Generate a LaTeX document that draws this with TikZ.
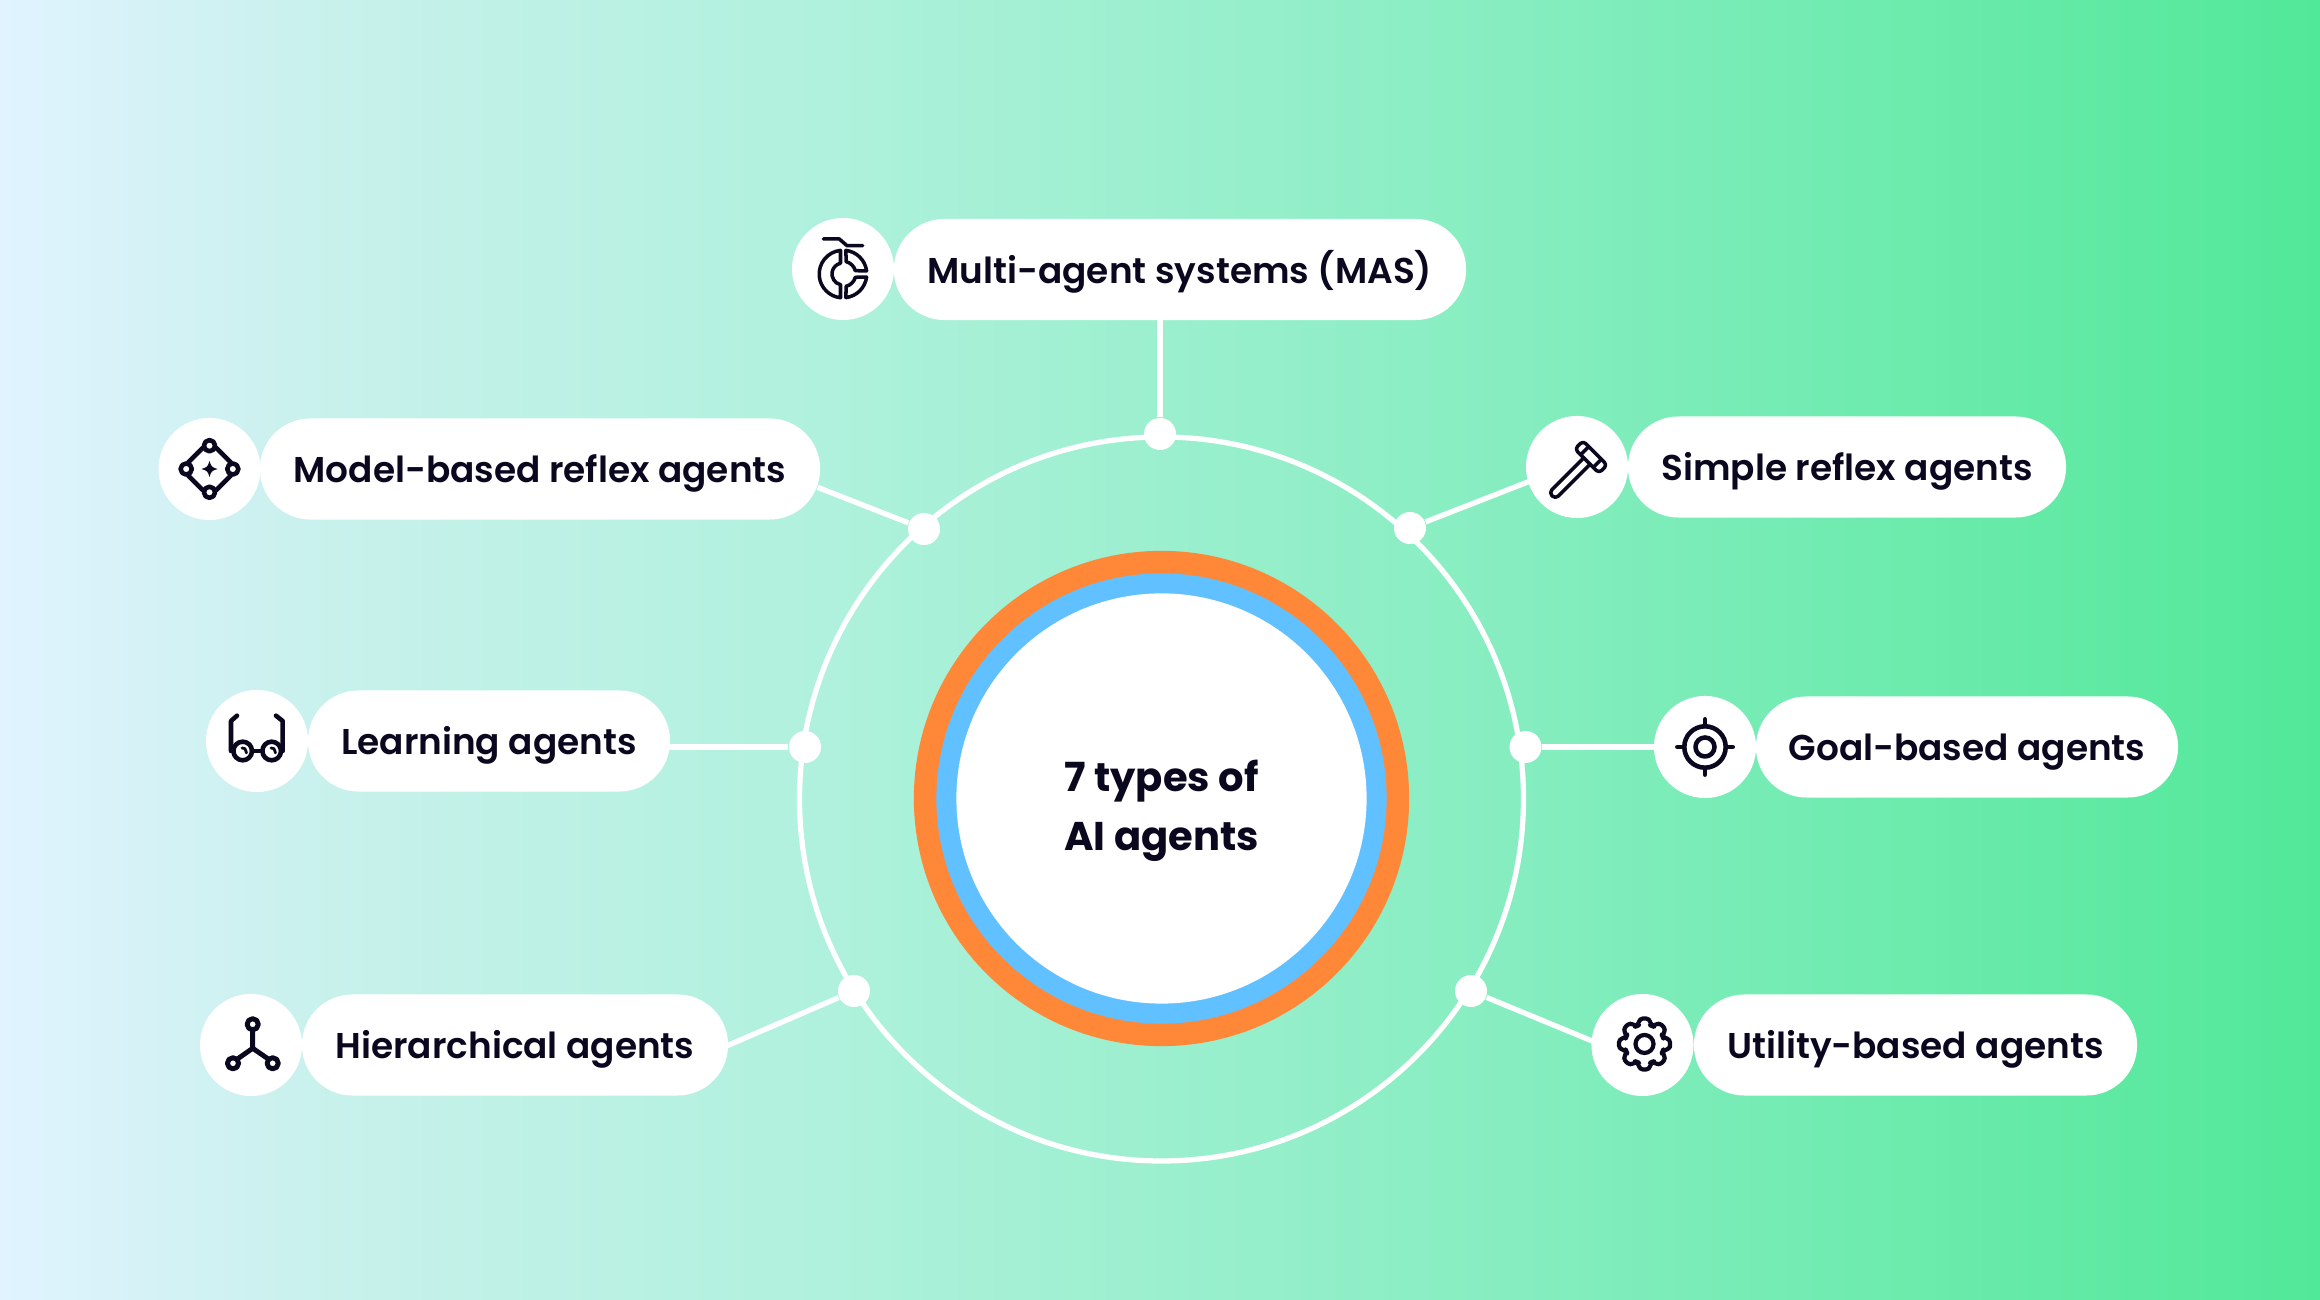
\documentclass[tikz,border=0pt]{standalone}
\usepackage{fontspec}
\setmainfont{Poppins SemiBold}[BoldFont=Poppins Bold]
\usepackage{xcolor}
\usetikzlibrary{positioning, arrows.meta, calc}
\definecolor{accOrange}{RGB}{255, 136, 56}
\definecolor{accBlue}{RGB}{97, 192, 255}
\definecolor{inkDark}{RGB}{10, 8, 30}
\pgfdeclarehorizontalshading{bgGrad}{100bp}{
    rgb(0bp)=(0.88,0.953,1);
    rgb(25bp)=(0.88,0.953,1);
    rgb(31.5bp)=(0.79,0.945,0.93);
    rgb(43bp)=(0.686,0.945,0.863);
    rgb(58bp)=(0.52,0.93,0.75);
    rgb(75bp)=(0.32,0.91,0.6);
    rgb(100bp)=(0.32,0.91,0.6)}

\begin{document}
\begin{tikzpicture}[
    x=0.01cm, y=0.01cm,
    font=\fontsize{10.2pt}{12pt}\selectfont\color{inkDark},
    pill/.style={rectangle, rounded corners=0.505cm, fill=white, minimum height=1.01cm,
        inner sep=0pt, align=center, text height=9.4pt, text depth=1.5pt},
    icon/.style={circle, fill=white, minimum size=1.02cm, inner sep=0pt},
    knot/.style={circle, fill=white, minimum size=0.32cm, inner sep=0pt},
    link/.style={line width=1.5pt, white, shorten >=-1pt},
    glyph/.style={line width=1pt, inkDark, line cap=round, line join=round}
]
\shade[shading=bgGrad] (0,0) rectangle (2320,1300);

% rings
\draw[line width=1.5pt, white] (1161.5,501) circle[radius=362];
\node[circle, fill=accOrange, minimum size=4.95cm, inner sep=0pt] (outer) at (1161.5,501.5) {};
\node[circle, fill=accBlue, minimum size=4.5cm, inner sep=0pt] (middle) at (1161.5,501.5) {};
\node[circle, fill=white, minimum size=4.1cm, inner sep=0pt] (inner) at (1161.5,501.5) {};
\node[align=center, font=\fontsize{11.4pt}{16.8pt}\selectfont\bfseries\color{inkDark}] (title) at (1161.5,489) {7 types of\\AI agents};

% knots on the ring
\node[knot] (kMas)    at (1160,866) {};
\node[knot] (kModel)  at (924,771) {};
\node[knot] (kSimple) at (1410,772) {};
\node[knot] (kLearn)  at (805,553) {};
\node[knot] (kGoal)   at (1525.5,553) {};
\node[knot] (kHier)   at (854,309) {};
\node[knot] (kUtil)   at (1471,309) {};

% labels
\node[pill, minimum width=5.72cm] (mas)    at (1180,1030.5) {Multi-agent systems (MAS)};
\node[pill, minimum width=5.6cm]  (model)  at (540,831) {Model-based reflex agents};
\node[pill, minimum width=4.38cm] (simple) at (1847,833) {Simple reflex agents};
\node[pill, minimum width=3.62cm] (learn)  at (489,559) {Learning agents};
\node[pill, minimum width=4.22cm] (goal)   at (1967,553) {Goal-based agents};
\node[pill, minimum width=4.26cm] (hier)   at (515,255) {Hierarchical agents};
\node[pill, minimum width=4.43cm] (util)   at (1915.5,255) {Utility-based agents};

\node[icon] (masIcon)    at (843,1031) {};
\node[icon] (modelIcon)  at (209.5,831) {};
\node[icon] (simpleIcon) at (1577,833) {};
\node[icon] (learnIcon)  at (257,559) {};
\node[icon] (goalIcon)   at (1705,553) {};
\node[icon] (hierIcon)   at (251,255) {};
\node[icon] (utilIcon)   at (1642.5,255) {};

\draw[link] (kMas) -- (kMas |- mas.south);
\draw[link] (kModel) -- (model.-4);
\draw[link] (kSimple) -- (simpleIcon.197);
\draw[link] (kLearn) -- (kLearn -| learn.east);
\draw[link] (kGoal) -- (goalIcon.west);
\draw[link] (kHier) -- (hier.east);
\draw[link] (kUtil) -- (utilIcon.175);

% icons
\begin{scope}[shift={(masIcon.center)}, glyph]
\draw (-19.7,30) -- (-3.7,30) -- (4,23.3) -- (19.7,23.3);
\draw (-2.5,18.6) arc[start angle=96, end angle=264, radius=23.8] -- (-2.5,-15.7)
    arc[start angle=257, end angle=103, radius=11] -- cycle;
\draw (2.9,18.6) arc[start angle=83, end angle=7.5, radius=23.8] -- (12.3,-1.7)
    arc[start angle=15, end angle=76, radius=12.7] -- cycle;
\draw (2.9,-28.6) arc[start angle=277, end angle=352.5, radius=23.8] -- (12.3,-8.3)
    arc[start angle=345, end angle=284, radius=12.7] -- cycle;
\end{scope}

\begin{scope}[shift={(modelIcon.center)}, glyph, line width=1.3pt]
\foreach \a in {0,90,180,270} {
    \draw (\a:23.3) circle[radius=5.6];
    \draw (\a+17:22.3) -- (\a+73:22.3);
}
\fill[inkDark] (0,8) .. controls (2,2) .. (8,0) .. controls (2,-2) .. (0,-8)
    .. controls (-2,-2) .. (-8,0) .. controls (-2,2) .. cycle;
\end{scope}

\begin{scope}[shift={(learnIcon.center)}, glyph, line width=1.3pt]
\draw (-14.3,-10) circle[radius=9.3];
\draw (14.7,-10) circle[radius=9.3];
\draw (-5,-10) -- (5.4,-10);
\draw (-20,25.3) -- (-26,20) -- (-26,-10);
\draw (19,25.3) -- (25.7,20) -- (25.7,-10);
\draw[line width=0.8pt] (-15,-7) .. controls (-12,-7) .. (-10.5,-12);
\draw[line width=0.8pt] (14,-7) .. controls (17,-7) .. (18.5,-12);
\end{scope}

\begin{scope}[shift={(hierIcon.center)}, glyph, line width=1.4pt]
\draw (1.7,20.7) circle[radius=5.6];
\draw (-18,-18.3) circle[radius=5.6];
\draw (21.7,-18.3) circle[radius=5.6];
\draw (1.7,15) -- (1.7,-3.3) -- (-14,-14.3);
\draw (1.7,-3.3) -- (17.7,-14.3);
\end{scope}

\begin{scope}[shift={(simpleIcon.center)}, glyph]
\begin{scope}[shift={(14,10)}, rotate=-45]
\draw[rounded corners=1pt] (-17,-5.7) rectangle (17,5.7);
\draw (-9,-5.7) -- (-9,5.7);
\draw (9,-5.7) -- (9,5.7);
\draw[rounded corners=1.2pt] (-4.5,-5.7) -- (-4.5,-55) -- (4.5,-55) -- (4.5,-5.7);
\end{scope}
\end{scope}

\begin{scope}[shift={(goalIcon.center)}, glyph, line width=1.3pt]
\draw (0,0) circle[radius=20.7];
\draw (0,0) circle[radius=9.5];
\foreach \a in {0,90,180,270}
    \draw (\a:21) -- (\a:27.7);
\end{scope}

\begin{scope}[shift={(utilIcon.center)}, glyph, line width=1.2pt]
\draw (2,1) circle[radius=9];
\draw[rounded corners=1pt, shift={(2,1)}] (-11:26) \foreach \a in {0,45,...,315} {
    -- (\a-11:26) -- (\a+11:26) -- (\a+19:19.5) -- (\a+26:19.5)} -- cycle;
\end{scope}
\end{tikzpicture}
\end{document}
